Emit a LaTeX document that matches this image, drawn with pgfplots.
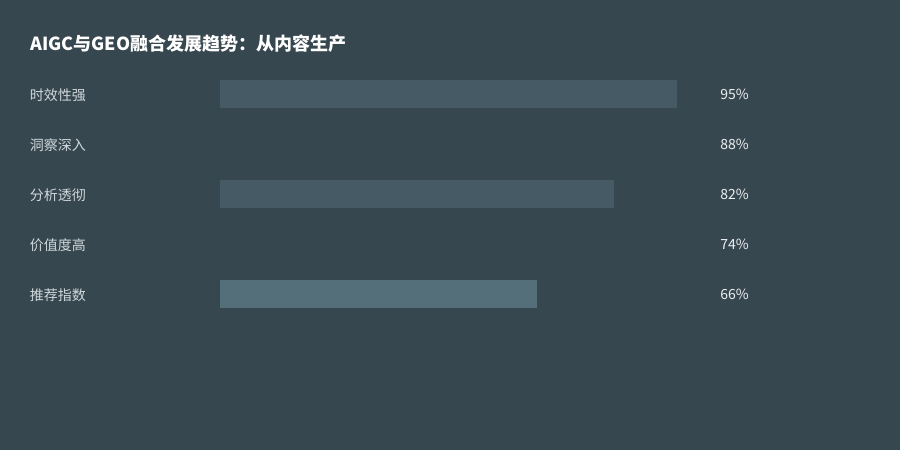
\documentclass[border=0pt]{standalone}
\usepackage{pgfplots}
\pgfplotsset{compat=1.18}
\usepackage{fontspec}
\setmainfont{Noto Sans CJK SC}
\definecolor{bgc}{HTML}{37474F}
\definecolor{barA}{HTML}{455A64}
\definecolor{barB}{HTML}{546E7A}
\definecolor{labc}{HTML}{CFD8DC}
\definecolor{pctc}{HTML}{ECEFF1}
\begin{document}
\begin{tikzpicture}[x=1bp,y=1bp]
	\fill[bgc] (0,0) rectangle (900,-450);
	\node[anchor=west, inner sep=0pt, text=white, font=\fontsize{18bp}{21bp}\selectfont\bfseries] at (30,-44) {AIGC与GEO融合发展趋势：从内容生产};
	\begin{axis}[
	at={(220bp,-69bp)}, anchor=north west,
	scale only axis,
	width=481bp, height=250bp,
	xmin=0, xmax=100,
	ymin=-0.5, ymax=4.5,
	y dir=reverse,
	axis line style={draw=none},
	tick style={draw=none},
	xtick=\empty,
	ytick={0,1,2,3,4},
	yticklabels={时效性强,洞察深入,分析透彻,价值度高,推荐指数},
	yticklabel style={anchor=west, inner sep=0pt, xshift=-186bp, yshift=-1bp, text=labc, font=\fontsize{14bp}{16bp}\selectfont},
	xbar, bar width=28bp, bar shift=0pt,
	clip=false,
	]
	% bars (rows 2 and 4 are drawn in the background colour)
	\addplot[fill=barA, draw=none] coordinates {(95,0)};
	\addplot[fill=bgc, draw=none] coordinates {(88,1)};
	\addplot[fill=barA, draw=none] coordinates {(82,2)};
	\addplot[fill=bgc, draw=none] coordinates {(74,3)};
	\addplot[fill=barB, draw=none] coordinates {(66,4)};
	% value labels
	\addplot[xbar=false, draw=none, mark=none,
		nodes near coords, point meta=explicit symbolic,
		nodes near coords style={anchor=west, inner sep=0pt, text=pctc, font=\fontsize{14bp}{16bp}\selectfont}]
	table[meta=lab] {
		x y lab
		104 0 95\%
		104 1 88\%
		104 2 82\%
		104 3 74\%
		104 4 66\%
	};
	\end{axis}
\end{tikzpicture}
\end{document}
